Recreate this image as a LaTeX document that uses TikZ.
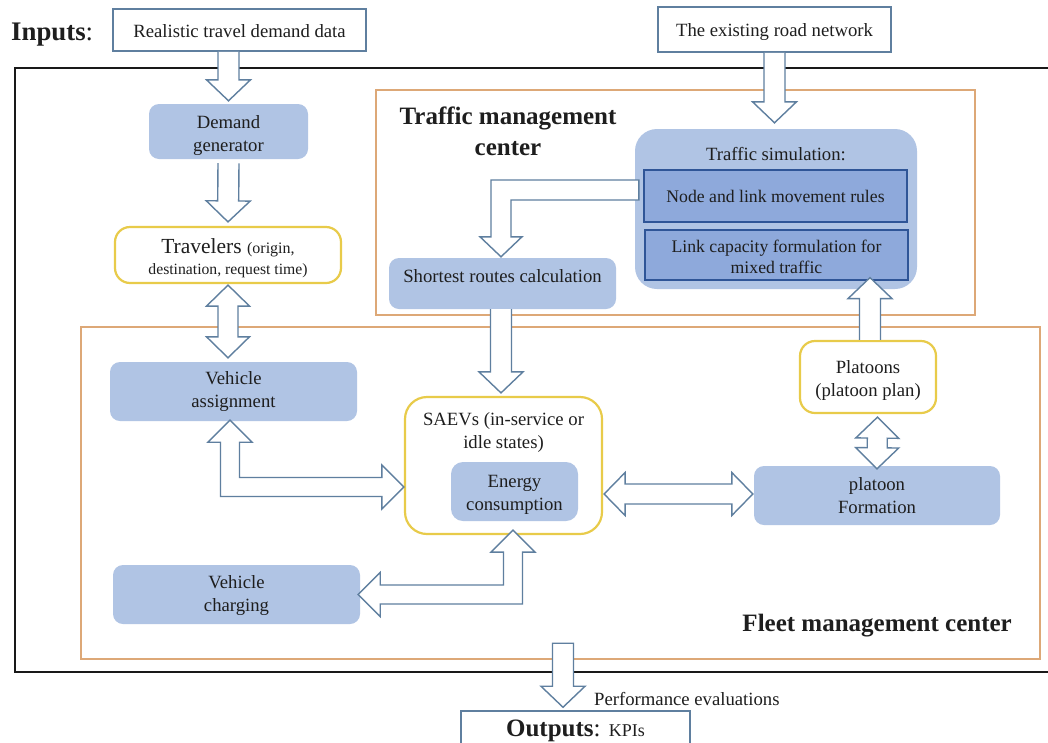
\documentclass[tikz,border=0pt]{standalone}
\usepackage{fontspec}
\setmainfont{Liberation Serif}
\usetikzlibrary{calc}
\definecolor{bluefill}{HTML}{B0C4E4}
\definecolor{deepfill}{HTML}{8EA9DB}
\definecolor{deepline}{HTML}{2F5597}
\definecolor{arrowline}{HTML}{5F7F9F}
\definecolor{orangeline}{HTML}{DDA877}
\definecolor{yellowline}{HTML}{E8CB4A}
\definecolor{inkc}{HTML}{1E1E1E}
\newcommand\fsz[2]{\fontsize{#1}{#2}\selectfont}
\newcommand\bksingle[3][]{%
  \coordinate (A) at (#2); \coordinate (B) at (#3);
  \coordinate (CC) at ($(B)!21pt!(A)$);
  \filldraw[blockarrow] ($(A)!10.5pt!90:(B)$) -- ($(CC)!10.5pt!90:(B)$) -- ($(CC)!22pt!90:(B)$) -- (B)
    -- ($(CC)!22pt!-90:(B)$) -- ($(CC)!10.5pt!-90:(B)$) -- ($(A)!10.5pt!-90:(B)$) #1;}
\newcommand\bkdouble[2]{%
  \coordinate (A) at (#1); \coordinate (B) at (#2);
  \coordinate (CA) at ($(A)!21pt!(B)$); \coordinate (CB) at ($(B)!21pt!(A)$);
  \filldraw[blockarrow] (A) -- ($(CA)!21.5pt!90:(B)$) -- ($(CA)!10pt!90:(B)$) -- ($(CB)!10pt!-90:(A)$)
    -- ($(CB)!21.5pt!-90:(A)$) -- (B) -- ($(CB)!21.5pt!90:(A)$) -- ($(CB)!10pt!90:(A)$)
    -- ($(CA)!10pt!-90:(B)$) -- ($(CA)!21.5pt!-90:(B)$) -- cycle;}
\newcommand\topnudge[1]{\rule{0pt}{#1pt}}
\tikzset{
  x=1pt,y=-1pt,
  every node/.style={text=inkc,inner sep=0pt,align=center,font=\fsz{18.7}{23}},
  inputbox/.style={draw=arrowline,line width=1.5pt,fill=white},
  bluebox/.style={fill=bluefill,rounded corners=10pt},
  yellowbox/.style={draw=yellowline,line width=2.2pt,fill=white,rounded corners=15pt},
  deepbox/.style={draw=deepline,line width=1.2pt,fill=deepfill,font=\fsz{17.7}{21}},
  panel/.style={draw=orangeline,line width=1.5pt},
  frameline/.style={draw=black!90,line width=1.5pt},
  blockarrow/.style={draw=arrowline,line width=1.4pt,fill=white,line join=miter},
  heading/.style={font=\bfseries\fsz{25}{31}},
}
\begin{document}
\begin{tikzpicture}
\useasboundingbox (0,0) rectangle (1048,742);
\fill[white] (0,0) rectangle (1048,742);
% frames
\draw[frameline] (1048,68) -- (15,68) -- (15,672) -- (1048,672);
\node[panel,minimum width=599pt,minimum height=225pt] (traffic) at (675.5,202.5) {};
\node[panel,minimum width=959pt,minimum height=332pt] (fleet) at (560.5,493) {};
% titles
\node[font=\bfseries\fsz{26.8}{30},anchor=west] (inputs) at (11,35) {Inputs\textmd{:}};
\node[heading] (traffictitle) at (508,131) {Traffic management\\center};
\node[heading,anchor=east] (fleettitle) at (1012,625.5) {Fleet management center};
% input and output boxes
\node[inputbox,minimum width=253pt,minimum height=42pt] (demanddata) at (239.5,30) {\topnudge{15}Realistic travel demand data};
\node[inputbox,minimum width=233pt,minimum height=45pt] (roadnet) at (774.5,29.5) {\topnudge{19}The existing road network};
\node[inputbox,minimum width=229pt,minimum height=40pt] (outputs) at (575.5,731) {\bfseries\fsz{25}{28}Outputs\textmd{:} \mdseries\fsz{18}{28}KPIs};
\node[anchor=west] (perf) at (594,699) {Performance evaluations};
% process boxes
\node[bluebox,minimum width=159pt,minimum height=55pt] (demandgen) at (228.5,131.5) {\topnudge{21}Demand\\generator};
\node[yellowbox,minimum width=226pt,minimum height=56pt] (travelers) at (228,255) {\topnudge{22}\fsz{21.5}{24}Travelers {\fsz{16}{22}(origin,}\\[-2pt]{\fsz{15.7}{20}destination, request time)}};
\node[bluebox,minimum width=247pt,minimum height=59pt] (assign) at (233.5,391.5) {Vehicle\\assignment};
\node[bluebox,minimum width=247pt,minimum height=59pt] (charging) at (236.5,594.5) {\topnudge{15}Vehicle\\charging};
\node[bluebox,minimum width=227pt,minimum height=51pt] (shortest) at (502.5,283.5) {\raisebox{15pt}{Shortest routes calculation}};
\node[bluebox,rounded corners=22pt,minimum width=282pt,minimum height=160pt] (sim) at (776,209) {};
\node (simtitle) at (776,154) {Traffic simulation:};
\node[deepbox,minimum width=263pt,minimum height=52pt] (rules) at (775.5,196) {Node and link movement rules};
\node[deepbox,minimum width=263pt,minimum height=50pt] (link) at (776.5,255) {\topnudge{16}Link capacity formulation for\\mixed traffic};
\node[yellowbox,minimum width=136pt,minimum height=72pt] (platoons) at (868,377) {\topnudge{19}Platoons\\(platoon plan)};
\node[bluebox,minimum width=246pt,minimum height=59pt] (formation) at (877,495.5) {platoon\\Formation};
\node[yellowbox,rounded corners=22pt,minimum width=197pt,minimum height=137pt] (saev) at (503.5,465.5) {};
\node (saevtext) at (503.5,432) {SAEVs (in-service or\\idle states)};
\node[bluebox,rounded corners=12pt,minimum width=127pt,minimum height=59pt] (energy) at (514.5,491.5) {\topnudge{18}Energy\\consumption};
% helper anchors on the connectors
\coordinate (roadtip) at (sim.north -| roadnet.south);
\coordinate (shorttip) at (saev.north -| shortest.south);
\coordinate (platotip) at (link.south -| platoons.north);
% straight block arrows
\bksingle{demanddata.south -| demandgen.north}{[yshift=3pt]demandgen.north}
\bksingle{[yshift=-4pt]demandgen.south}{[yshift=4pt]travelers.north}
\bkdouble{[yshift=-1pt]travelers.south}{[yshift=4pt]assign.north -| travelers.south}
\bksingle{roadnet.south}{[yshift=6pt]roadtip}
\bksingle{[xshift=-1.5pt]shortest.south}{[xshift=-1.5pt,yshift=3pt]shorttip}
\bksingle{[xshift=2pt]platoons.north}{[xshift=2pt,yshift=3pt]platotip}
\bkdouble{[xshift=9.5pt,yshift=-3pt]platoons.south}{[yshift=-3pt]formation.north}
\bkdouble{[xshift=1pt,yshift=-28.5pt]saev.east}{[xshift=-1pt,yshift=1.5pt]formation.west}
\bksingle[-- cycle]{[xshift=-12.5pt,yshift=67pt]outputs.north}{[xshift=-12.5pt,yshift=3pt]outputs.north}
% bent block arrows
\coordinate (T) at ([xshift=4pt,yshift=19pt]sim.west);
\coordinate (P) at ([xshift=-1.5pt,yshift=1pt]shortest.north);
\coordinate (Q) at (P |- T);
\filldraw[blockarrow] ($(T)+(0,-10)$) -- ($(Q)+(-10,-10)$) -- ($(P)+(-10,-20)$) -- ($(P)+(-21,-20)$) -- (P)
  -- ($(P)+(21,-20)$) -- ($(P)+(10,-20)$) -- ($(Q)+(10,10)$) -- ($(T)+(0,10)$) -- cycle;
\coordinate (U) at ([xshift=-3.5pt,yshift=1pt]assign.south);
\coordinate (V) at ([yshift=-21.5pt]saev.west);
\coordinate (W) at (U |- V);
\filldraw[blockarrow] (U) -- ($(U)+(-22,22)$) -- ($(U)+(-9.5,22)$) -- ($(W)+(-9.5,9.5)$) -- ($(V)+(-22,9.5)$)
  -- ($(V)+(-22,22)$) -- (V) -- ($(V)+(-22,-22)$) -- ($(V)+(-22,-9.5)$) -- ($(W)+(9.5,-9.5)$)
  -- ($(U)+(9.5,22)$) -- ($(U)+(22,22)$) -- cycle;
\coordinate (R) at ([xshift=-2pt]charging.east);
\coordinate (S) at ([xshift=9.5pt,yshift=5pt]saev.south);
\coordinate (M) at (S |- R);
\filldraw[blockarrow] (R) -- ($(R)+(22,-22)$) -- ($(R)+(22,-9.5)$) -- ($(M)+(-9.5,-9.5)$) -- ($(S)+(-9.5,22)$)
  -- ($(S)+(-22,22)$) -- (S) -- ($(S)+(22,22)$) -- ($(S)+(9.5,22)$) -- ($(M)+(9.5,9.5)$)
  -- ($(R)+(22,9.5)$) -- ($(R)+(22,22)$) -- cycle;
\end{tikzpicture}
\end{document}
